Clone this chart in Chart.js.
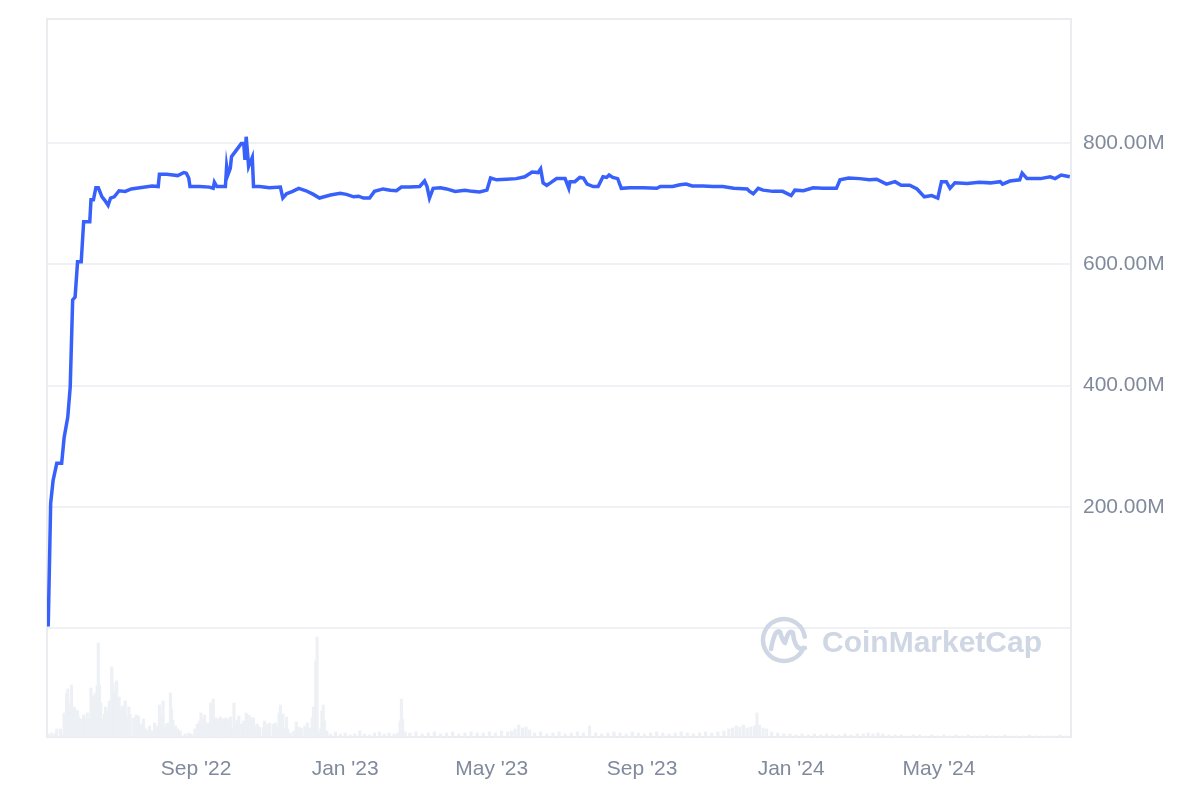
<!DOCTYPE html>
<html>
<head>
<meta charset="utf-8">
<script src="https://cdn.jsdelivr.net/npm/chart.js@4.4.0/dist/chart.umd.min.js"></script>
<style>
  html, body { margin: 0; padding: 0; background: #fff; }
  #wrap { width: 1200px; height: 800px; position: relative; }
</style>
</head>
<body>
<div id="wrap"><canvas id="supplyChart"></canvas></div>
<script>
// day 0 = 2022-05-02
const priceDays = [1,3,5,8,12,14,17,19,21,23,25,28,30,35,36,38,40,42,45,47,50,52,55,59,64,69,76,86,91,92,98,103,107,112,114,116,117,125,133,136,137,139,146,147,148,150,151,155,159,161,162,163,165,166,168,169,174,182,191,193,196,201,206,212,218,223,232,240,245,251,255,259,264,268,275,281,286,290,297,305,309,311,313,316,322,327,334,342,348,354,360,363,368,376,384,391,397,402,404,406,409,412,417,424,427,428,432,436,439,442,447,451,455,458,460,463,467,470,477,488,499,502,512,518,523,528,537,545,553,562,573,575,578,582,586,594,602,609,612,619,627,635,646,649,656,665,673,679,687,694,699,706,712,718,724,729,732,736,739,743,753,763,772,780,782,788,796,798,802,813,821,825,830,837];
// values in millions
const priceValues = [3,206,244,272,272,314,348,398,541,546,604,604,670,670,706,706,726,726,711,706,697,709,711,721,720,724,726,729,728,748,748,747,746,751,750,742,728,728,727,725,735,728,728,761,747,758,777,788,799,799,772,810,761,766,776,728,728,726,727,709,716,720,725,721,715,709,714,717,715,711,712,709,709,720,724,722,721,727,727,728,737,728,709,725,726,724,720,722,720,719,722,742,739,740,741,744,752,751,757,734,730,734,741,741,725,736,736,743,742,732,728,728,744,743,747,743,741,725,726,726,725,728,728,731,732,729,729,728,728,725,724,720,716,725,722,720,720,713,722,721,726,725,725,739,742,741,739,740,732,736,730,730,724,711,713,709,736,736,725,734,733,735,734,736,732,737,739,750,741,741,744,741,747,744];

const volDays = [1,4,7,8,11,13,14,16,17,18,19,20,22,23,25,26,28,30,32,33,35,36,37,39,40,41,42,43,44,46,47,48,50,51,53,54,55,57,58,59,61,62,64,65,67,68,71,73,75,77,79,80,82,84,86,88,90,92,93,95,97,98,99,101,102,103,105,107,109,111,113,116,118,121,123,125,126,128,129,131,133,134,136,138,140,142,144,146,148,150,152,153,155,156,157,159,161,163,165,167,169,170,172,174,177,178,180,182,185,187,188,190,191,193,195,196,197,199,202,204,206,208,211,213,215,217,218,220,221,222,224,225,226,227,229,232,236,240,244,248,252,256,260,264,268,272,276,280,284,287,289,290,291,293,297,302,307,312,317,322,327,332,337,342,347,352,357,362,367,372,377,380,383,386,389,392,395,399,404,409,414,419,424,429,434,439,444,449,454,459,464,469,474,479,484,489,494,499,504,509,514,519,524,529,534,539,544,549,554,558,561,564,567,570,573,576,579,581,583,586,589,593,598,603,608,613,618,623,628,633,638,643,648,653,658,663,668,672,676,680,684,689,694,699,704,709,714,719,724,729,734,739,744,749,754,759,764,769,774,779,784,789,794,799,804,809,814,819,824,829,834];
// relative trading volume
const volumes = [3,4,3,8,8,2,24,43,48,30,34,52,30,28,26,20,18,22,19,24,18,49,40,42,44,51,94,52,34,18,23,30,27,36,70,54,46,56,38,40,28,31,36,19,30,23,19,22,21,13,18,9,7,11,6,14,11,32,23,36,9,13,14,44,28,17,11,8,6,1,3,4,3,8,13,16,24,18,22,14,13,34,38,19,18,20,18,19,18,20,9,34,14,17,21,13,16,24,22,20,19,11,13,10,9,16,13,14,13,14,11,24,32,23,9,20,8,4,6,15,10,9,11,14,9,19,30,76,100,4,8,26,32,16,6,3,5,3,4,2,3,6,3,2,4,5,3,4,3,4,16,38,18,5,4,5,3,4,5,3,4,5,3,4,5,4,4,5,4,6,5,6,8,12,9,10,7,4,5,3,4,5,3,4,5,4,11,4,3,4,5,4,3,5,4,3,4,5,4,3,4,5,4,3,4,5,4,5,6,8,9,11,10,12,9,10,11,24,12,9,8,5,4,3,3,2,3,2,3,2,3,2,2,3,2,3,3,4,3,4,3,2,2,2,1,2,2,1,2,1,2,1,2,1,2,1,1,2,1,1,2,1,1,1,2,1,1,1,1,2,1];

const tickDays = [122, 244, 364, 487, 609, 730];
const tickLabels = ["Sep '22", "Jan '23", "May '23", "Sep '23", "Jan '24", "May '24"];
const yTicks = [0, 200, 400, 600, 800];

const labelColor = '#808a9d';
const gridColor = '#eff1f4';
const fontFamily = '"Liberation Sans", Arial, Helvetica, sans-serif';

const framePlugin = {
  id: 'frame',
  beforeDatasetsDraw(chart) {
    const { ctx, chartArea: a } = chart;
    ctx.save();
    ctx.strokeStyle = '#eaecef';
    ctx.lineWidth = 2;
    ctx.strokeRect(a.left, a.top, a.right - a.left, a.bottom - a.top);

    // CoinMarketCap watermark
    const cx = 784, cy = 640;
    ctx.strokeStyle = '#cfd6e4';
    ctx.fillStyle = '#cfd6e4';
    ctx.lineWidth = 4.5;
    ctx.lineCap = 'round';
    ctx.lineJoin = 'round';
    ctx.beginPath();
    ctx.arc(cx, cy, 21, 0.12 * Math.PI, 1.95 * Math.PI);
    ctx.stroke();
    ctx.beginPath();
    ctx.moveTo(cx - 13, cy + 9);
    ctx.quadraticCurveTo(cx - 9, cy - 12, cx - 4, cy - 8);
    ctx.quadraticCurveTo(cx - 1, cy + 2, cx + 1, cy + 3);
    ctx.quadraticCurveTo(cx + 5, cy - 12, cx + 9, cy - 7);
    ctx.quadraticCurveTo(cx + 11, cy + 12, cx + 21, cy + 8);
    ctx.stroke();
    ctx.font = 'bold 30px ' + fontFamily;
    ctx.textBaseline = 'alphabetic';
    ctx.fillText('CoinMarketCap', 822, 652);
    ctx.restore();
  }
};

const ctx = document.getElementById('supplyChart').getContext('2d');

new Chart(ctx, {
  type: 'line',
  data: {
    datasets: [
      {
        label: 'Supply',
        data: priceDays.map((d, i) => ({ x: d, y: priceValues[i] })),
        borderColor: '#3861fb',
        borderWidth: 3.5,
        pointRadius: 0,
        tension: 0,
        fill: false,
        yAxisID: 'y',
        order: 0
      },
      {
        type: 'bar',
        label: 'Volume',
        data: volDays.map((d, i) => ({ x: d, y: volumes[i] })),
        backgroundColor: '#edf0f4',
        borderWidth: 0,
        barThickness: 2.5,
        yAxisID: 'yv',
        order: 1
      }
    ]
  },
  options: {
    responsive: true,
    maintainAspectRatio: false,
    animation: false,
    layout: { padding: { left: 47, top: 19, right: 0, bottom: 0 } },
    plugins: {
      legend: { display: false },
      tooltip: { enabled: false }
    },
    scales: {
      x: {
        type: 'linear',
        min: 0,
        max: 838,
        offset: false,
        grid: { display: false, drawTicks: false },
        border: { display: false },
        afterBuildTicks: scale => { scale.ticks = tickDays.map(v => ({ value: v })); },
        afterFit: scale => {
          scale.height = 63;
          scale.paddingLeft = 0;
          scale.paddingRight = 0;
        },
        ticks: {
          padding: 20,
          color: labelColor,
          font: { size: 21, family: fontFamily },
          maxRotation: 0,
          autoSkip: false,
          callback: value => tickLabels[tickDays.indexOf(value)] || ''
        }
      },
      y: {
        position: 'right',
        min: -179,
        max: 1004,
        grid: { color: gridColor, lineWidth: 2, drawTicks: false },
        border: { display: false },
        afterBuildTicks: scale => { scale.ticks = yTicks.map(v => ({ value: v })); },
        afterFit: scale => {
          scale.width = 129;
          scale.paddingTop = 0;
          scale.paddingBottom = 0;
        },
        ticks: {
          padding: 12,
          color: labelColor,
          font: { size: 21, family: fontFamily },
          callback: value => value === 0 ? '' : value.toFixed(2) + 'M'
        }
      },
      yv: {
        display: false,
        min: 0,
        max: 718
      }
    }
  },
  plugins: [framePlugin]
});
</script>
</body>
</html>
